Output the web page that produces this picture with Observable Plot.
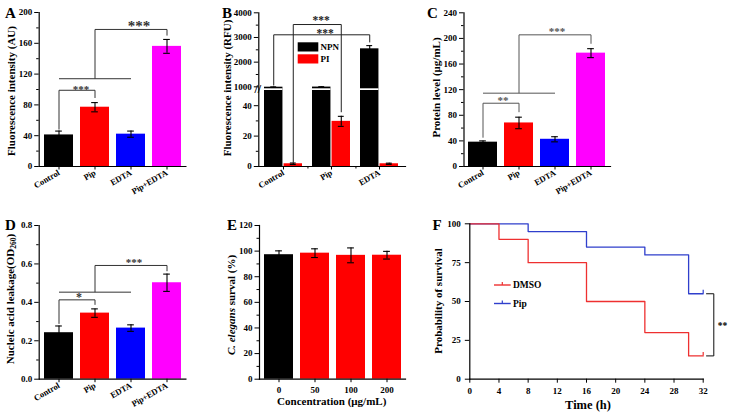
<!DOCTYPE html>
<html><head><meta charset="utf-8">
<script src="https://cdn.jsdelivr.net/npm/d3@7"></script>
<script src="https://cdn.jsdelivr.net/npm/@observablehq/plot@0.6"></script>
<style>
body{margin:0;background:#fff;}
#fig{position:relative;width:730px;height:416px;overflow:hidden;background:#fff;}
</style></head><body><div id="fig"></div>
<script>
// ---------------- data ----------------
const groups = ["Control", "Pip", "EDTA", "Pip+EDTA"];
const groupColors = ["#000000", "#ff0000", "#0000ff", "#ff00ff"];

const aMean = [41, 77, 42, 156];
const aErr = [5, 6, 4, 9];
const aTicks = [0, 40, 80, 120, 160, 200];
const aMinor = [20, 60, 100, 140, 180];

const bGroups = ["Control", "Pip", "EDTA"];
const bNPN = [985, 990, 2540];
const bNPNErr = [12, 15, 130];
const bPI = [1.8, 29.7, 1.8];
const bPIErr = [0.5, 3.3, 0.4];
const bTicks = [0, 20, 40, 1000, 2000, 3000, 4000];
const bMinor = [10, 30, 1500, 2500, 3500];

const cMean = [38, 68, 42.5, 177];
const cErr = [2, 9, 4, 7];
const cTicks = [0, 40, 80, 120, 160, 200, 240];
const cMinor = [20, 60, 100, 140, 180, 220];

const dMean = [0.242, 0.344, 0.266, 0.502];
const dErr = [0.035, 0.022, 0.017, 0.045];
const dTicks = [0, 0.2, 0.4, 0.6, 0.8];
const dMinor = [0.1, 0.3, 0.5, 0.7];

const eConc = ["0", "50", "100", "200"];
const eColors = ["#000000", "#ff0000", "#ff0000", "#ff0000"];
const eMean = [97.2, 98.4, 96.7, 96.8];
const eErr = [3, 3.4, 5.8, 3];
const eTicks = [0, 20, 40, 60, 80, 100, 120];
const eMinor = [10, 30, 50, 70, 90, 110];

const fDMSOTime = [0, 4, 8, 16, 24, 30, 32];
const fDMSO = [100, 90, 75, 50, 30, 15, 15];
const fPipTime = [0, 8, 16, 24, 30, 32];
const fPip = [100, 95, 85, 80, 55, 55];
const fTimeTicks = [0, 4, 8, 12, 16, 20, 24, 28, 32];
const fSurvTicks = [0, 25, 50, 75, 100];

// significance annotations (category / value units)
const aSig = [
  {type: "pair", a: "Control", b: "Pip", y: 99, dropA: 48, dropB: 89, label: "***", lx: "Control", ldx: 22, ly: 102, size: 11},
  {type: "fork", left: "Control", right: "EDTA", mid: "Pip", y: 114, target: "Pip+EDTA", top: 178, drop: 170, label: "***", lx: "EDTA", ldx: 8, ly: 184.5, size: 15}
];
const cSig = [
  {type: "pair", a: "Control", b: "Pip", y: 98.8, dropA: 45, dropB: 84.8, label: "**", lx: "Control", ldx: 20, ly: 105.7, size: 11},
  {type: "fork", left: "Control", right: "EDTA", mid: "Pip", y: 114.5, target: "Pip+EDTA", top: 205.6, drop: 191.6, label: "***", lx: "EDTA", ldx: 2, ly: 213.4, size: 11}
];
const dSig = [
  {type: "pair", a: "Control", b: "Pip", y: 0.413, dropA: 0.288, dropB: 0.387, label: "*", lx: "Control", ldx: 20, ly: 0.436, size: 12},
  {type: "fork", left: "Control", right: "EDTA", mid: "Pip", y: 0.453, target: "Pip+EDTA", top: 0.592, drop: 0.562, label: "***", lx: "EDTA", ldx: 3, ly: 0.616, size: 11}
];
const bSig = [
  {type: "pair", a: "Control", b: "Pip", y: 3525, dropA: 2.8, dropB: 35.7, side: 1, label: "***", lx: "Control", ldx: 37.7, ly: 3750, size: 11.5},
  {type: "pair", a: "Control", b: "EDTA", y: 3108, dropA: 1054, dropB: 2800, side: -1, label: "***", lx: "Control", ldx: 41.7, ly: 3250, size: 11.5}
];

// ---------------- helpers ----------------
const FONT = '"Liberation Serif","Times New Roman",serif';
const fig = document.getElementById("fig");
const baseStyle = {fontFamily: FONT, fontWeight: "bold", fontSize: "9px", background: "transparent", color: "black", overflow: "visible"};

function place(svg, left, top) {
  svg.style.position = "absolute";
  svg.style.left = left + "px";
  svg.style.top = top + "px";
  fig.appendChild(svg);
}

function sigSegments(s) {
  if (s.type === "pair") return [
    {x1: s.a, y1: s.y, x2: s.b, y2: s.y},
    {x1: s.a, y1: s.y, x2: s.a, y2: s.dropA},
    {x1: s.b, y1: s.y, x2: s.b, y2: s.dropB}
  ];
  return [
    {x1: s.left, y1: s.y, x2: s.right, y2: s.y},
    {x1: s.mid, y1: s.y, x2: s.mid, y2: s.top},
    {x1: s.mid, y1: s.top, x2: s.target, y2: s.top},
    {x1: s.target, y1: s.top, x2: s.target, y2: s.drop}
  ];
}

function sigMarks(list, stroke, dxFor) {
  const out = [];
  for (const s of list) {
    const dx = dxFor ? dxFor(s) : 0;
    out.push(Plot.link(sigSegments(s), {x1: "x1", y1: "y1", x2: "x2", y2: "y2", stroke, strokeWidth: 1, dx}));
    out.push(Plot.text([s], {x: "lx", y: "ly", text: "label", dx: s.ldx, dy: 0.15 * s.size, fontSize: s.size, fill: stroke, textAnchor: "middle", lineAnchor: "middle"}));
  }
  return out;
}

// category ticks with rotated labels
function rotatedX() {
  return [Plot.axisX({tickSize: 3.5, tickRotate: -30, tickPadding: 2, label: null, fontSize: 8.5})];
}

function barPanel(o) {
  const rows = o.cats.map((c, i) => ({cat: c, v: o.means[i], e: o.errs[i], color: o.colors[i]}));
  const n = o.cats.length;
  const step = (o.width - o.ml - o.mr) / n;
  const bw = step * 0.8;
  const capInset = (bw - 7) / 2;
  const marks = [
    Plot.barY(rows, {x: "cat", y: "v", fill: "color"}),
    Plot.ruleX(rows, {x: "cat", y1: d => d.v - d.e, y2: d => d.v + d.e, stroke: "black", strokeWidth: 1.1}),
    Plot.tickY(rows, {x: "cat", y: d => d.v + d.e, insetLeft: capInset, insetRight: capInset, stroke: "black", strokeWidth: 1.1}),
    Plot.tickY(rows, {x: "cat", y: d => d.v - d.e, insetLeft: capInset, insetRight: capInset, stroke: "black", strokeWidth: 1.1}),
    Plot.axisY({ticks: o.yTicks, tickSize: 4.5, tickPadding: 2.5, tickFormat: o.yFmt, label: null, fontSize: 9}),
    Plot.axisY({ticks: o.yMinor, tickSize: 2.5, tickFormat: () => "", label: null}),
    ...(o.rotate
      ? rotatedX()
      : [Plot.axisX({tickSize: 3.5, tickPadding: 3.5, label: null, fontSize: 9})]),
    Plot.frame({anchor: "left", strokeWidth: 1.2}),
    Plot.frame({anchor: "bottom", strokeWidth: 1.2}),
    ...(o.sig ? sigMarks(o.sig, o.sigColor || "#333") : [])
  ];
  return Plot.plot({
    width: o.width, height: o.height,
    marginLeft: o.ml, marginRight: o.mr, marginTop: o.mt, marginBottom: o.mb,
    x: {domain: o.cats, paddingInner: 0.2, paddingOuter: 0.1, axis: null},
    y: {domain: o.yDomain, axis: null},
    color: {type: "identity"},
    style: baseStyle,
    marks
  });
}

const numFmt = d => String(d);

// ---------------- Panel A ----------------
place(barPanel({
  cats: groups, means: aMean, errs: aErr, colors: groupColors,
  width: 240, height: 210, ml: 38.7, mr: 54.6, mt: 12, mb: 44,
  yDomain: [0, 200], yTicks: aTicks, yMinor: aMinor, yFmt: numFmt, rotate: true, sig: aSig
}), 0, 0);

// ---------------- Panel B (broken axis) ----------------
(function () {
  const width = 210, height = 210, ml = 38.3, mr = 25, mt = 12.3, mb = 44;
  const low = 50, high = 920, top = 4000;         // axis break between 50 and 920
  const segPx = 76, gapPx = 1.7;                   // pixel height of each segment and of the gap
  const unit = segPx / low;                        // px per transformed unit
  const gapU = gapPx / unit, kU = low / (top - high);
  const brk = v => v <= low ? v : v <= high ? low + (v - low) / (high - low) * gapU : low + gapU + (v - high) * kU;
  const tickPos = bTicks.map(brk);
  const tickLabel = new Map(bTicks.map(v => [brk(v), String(v)]));
  const minorPos = bMinor.map(brk);
  const step = (width - ml - mr) / bGroups.length;
  const bw = step * 0.8, q = bw / 4, half = bw / 2;
  const npn = bGroups.map((g, i) => ({g, v: bNPN[i], e: bNPNErr[i]}));
  const pi = bGroups.map((g, i) => ({g, v: bPI[i], e: bPIErr[i]}));
  const capL = q - 3.5, capR = bw - q - 3.5;
  const errMarks = (rows, dx, il, ir) => [
    Plot.ruleX(rows, {x: "g", y1: d => d.v - d.e, y2: d => d.v + d.e, dx, stroke: "black", strokeWidth: 1.1}),
    Plot.tickY(rows, {x: "g", y: d => d.v + d.e, insetLeft: il, insetRight: ir, stroke: "black", strokeWidth: 1.1}),
    Plot.tickY(rows, {x: "g", y: d => d.v - d.e, insetLeft: il, insetRight: ir, stroke: "black", strokeWidth: 1.1})
  ];
  const svg = Plot.plot({
    width, height, marginLeft: ml, marginRight: mr, marginTop: mt, marginBottom: mb,
    x: {domain: bGroups, paddingInner: 0.2, paddingOuter: 0.1, axis: null},
    y: {transform: brk, domain: [0, brk(top)], axis: null},
    style: baseStyle,
    marks: [
      Plot.barY(npn, {x: "g", y1: () => 0, y2: "v", fill: "black", insetRight: half}),
      Plot.barY(pi, {x: "g", y1: () => 0, y2: "v", fill: "#ff0000", insetLeft: half}),
      Plot.barY(npn, {x: "g", y1: () => low, y2: () => high, fill: "white", insetRight: half}),
      ...errMarks(npn, -q, capL, capR),
      ...errMarks(pi, q, capR, capL),
      Plot.axisY({ticks: tickPos, tickSize: 4.5, tickPadding: 2.5, tickFormat: d => tickLabel.get(d), label: null, fontSize: 9}),
      Plot.axisY({ticks: minorPos, tickSize: 2.5, tickFormat: () => "", label: null}),
      ...rotatedX(),
      Plot.axisX({ticks: ["Control", "Pip"], dx: step / 2, tickSize: 2.5, tickFormat: () => "", label: null}),
      Plot.frame({anchor: "left", strokeWidth: 1.2}),
      Plot.frame({anchor: "bottom", strokeWidth: 1.2}),
      Plot.text([(low + high) / 2], {frameAnchor: "left", y: d => d, text: () => "//", fontSize: 12, textAnchor: "middle", lineAnchor: "middle", dx: -1}),
      ...sigMarks(bSig, "#222", s => s.side * q)
    ]
  });
  place(svg, 220, 0);
})();

// ---------------- Panel C ----------------
place(barPanel({
  cats: groups, means: cMean, errs: cErr, colors: groupColors,
  width: 210, height: 210, ml: 38.5, mr: 25, mt: 12.3, mb: 44,
  yDomain: [0, 240], yTicks: cTicks, yMinor: cMinor, yFmt: numFmt, rotate: true, sig: cSig, sigColor: "#555"
}), 425, 0);

// ---------------- Panel D ----------------
place(barPanel({
  cats: groups, means: dMean, errs: dErr, colors: groupColors,
  width: 240, height: 211, ml: 38.7, mr: 54.6, mt: 20, mb: 37.3,
  yDomain: [0, 0.8], yTicks: dTicks, yMinor: dMinor, yFmt: d3.format(".1f"), rotate: true, sig: dSig
}), 0, 205);

// ---------------- Panel E ----------------
place(barPanel({
  cats: eConc, means: eMean, errs: eErr, colors: eColors,
  width: 210, height: 211, ml: 39, mr: 25, mt: 20, mb: 37.3,
  yDomain: [0, 120], yTicks: eTicks, yMinor: eMinor, yFmt: numFmt, rotate: false
}), 220, 205);

// ---------------- Panel F ----------------
(function () {
  const red = "#ee3030", blue = "#2f3fcc";
  const dmso = fDMSOTime.map((t, i) => ({t, s: fDMSO[i]}));
  const pip = fPipTime.map((t, i) => ({t, s: fPip[i]}));
  const ends = [{t: 32, s: fPip[fPip.length - 1], c: blue}, {t: 32, s: fDMSO[fDMSO.length - 1], c: red}];
  const sigSeg = [
    {x1: 32.4, y1: 55, x2: 33.45, y2: 55},
    {x1: 33.45, y1: 55, x2: 33.45, y2: 15},
    {x1: 32.4, y1: 15, x2: 33.45, y2: 15}
  ];
  const svg = Plot.plot({
    width: 305, height: 211, marginLeft: 44.3, marginRight: 27.3, marginTop: 18.3, marginBottom: 37.3,
    x: {domain: [0, 32], axis: null},
    y: {domain: [0, 100], axis: null},
    color: {type: "identity"},
    style: baseStyle,
    marks: [
      Plot.line(pip, {x: "t", y: "s", curve: "step-after", stroke: blue, strokeWidth: 1.3}),
      Plot.line(dmso, {x: "t", y: "s", curve: "step-after", stroke: red, strokeWidth: 1.3}),
      Plot.ruleX(ends, {x: "t", y1: "s", y2: d => d.s + 2.2, stroke: "c", strokeWidth: 1.2}),
      Plot.axisY({ticks: fSurvTicks, tickSize: 4.5, tickPadding: 4.5, tickFormat: numFmt, label: null, fontSize: 9}),
      Plot.axisX({ticks: fTimeTicks, tickSize: 4, tickPadding: 4, tickFormat: numFmt, label: null, fontSize: 9}),
      Plot.frame({anchor: "left", strokeWidth: 1.2}),
      Plot.frame({anchor: "bottom", strokeWidth: 1.2}),
      Plot.link(sigSeg, {x1: "x1", y1: "y1", x2: "x2", y2: "y2", stroke: "#222", strokeWidth: 1.1}),
      Plot.text([{x: 34.65, y: 35}], {x: "x", y: "y", text: () => "**", fontSize: 9.5, dy: 1.5, textAnchor: "middle", lineAnchor: "middle"})
    ]
  });
  place(svg, 425, 205);
})();

// ---------------- overlay texts ----------------
const ov = d3.select(fig).append("svg")
  .attr("width", 730).attr("height", 416)
  .style("position", "absolute").style("left", "0px").style("top", "0px")
  .style("font-family", FONT).style("font-weight", "bold");

const letters = [["A", 5, 18], ["B", 222, 18], ["C", 427, 18], ["D", 5, 230], ["E", 227, 230], ["F", 432.5, 230]];
for (const [t, x, y] of letters) ov.append("text").attr("x", x).attr("y", y).attr("font-size", 15).text(t);

function ylab(x, y, parts) {
  const t = ov.append("text").attr("transform", `translate(${x},${y}) rotate(-90)`)
    .attr("text-anchor", "middle").attr("font-size", 11);
  for (const p of parts) {
    const s = t.append("tspan").text(p.t);
    if (p.i) s.attr("font-style", "italic");
    if (p.sub) s.attr("font-size", 7.5).attr("dy", 2);
    if (p.after) s.attr("dy", -2);
  }
}
ylab(14.6, 91, [{t: "Fluorescence intensity (AU)"}]);
ylab(231, 88, [{t: "Fluorescence intensity (RFU)"}]);
ylab(440, 87.5, [{t: "Protein level (μg/mL)"}]);
ylab(13.5, 299, [{t: "Nucleic acid leakage(OD"}, {t: "260", sub: true}, {t: ")", after: true}]);
ylab(235, 305, [{t: "C. elegans", i: true}, {t: " surval (%)"}]);
ylab(442, 301, [{t: "Probability of survival"}]);

ov.append("text").attr("x", 331.7).attr("y", 405).attr("text-anchor", "middle").attr("font-size", 11).text("Concentration (μg/mL)");
ov.append("text").attr("x", 588).attr("y", 408.5).attr("text-anchor", "middle").attr("font-size", 12.5).text("Time (h)");

// legend B
const bLegend = [["NPN", "#000000", 42.3], ["PI", "#ff0000", 54.3]];
for (const [t, c, y] of bLegend) {
  ov.append("rect").attr("x", 297.7).attr("y", y).attr("width", 20.6).attr("height", 9.2).attr("fill", c);
  ov.append("text").attr("x", 320.5).attr("y", y + 8).attr("font-size", 9).text(t);
}
// legend F
const fLegend = [["DMSO", "#ee3030", 285], ["Pip", "#2f3fcc", 303.5]];
for (const [t, c, y] of fLegend) {
  ov.append("line").attr("x1", 494).attr("x2", 510.7).attr("y1", y).attr("y2", y).attr("stroke", c).attr("stroke-width", 1.4);
  ov.append("line").attr("x1", 502.3).attr("x2", 502.3).attr("y1", y).attr("y2", y - 3).attr("stroke", c).attr("stroke-width", 1.2);
  ov.append("text").attr("x", 513).attr("y", y + 3.3).attr("font-size", 9.5).text(t);
}
</script></body></html>
